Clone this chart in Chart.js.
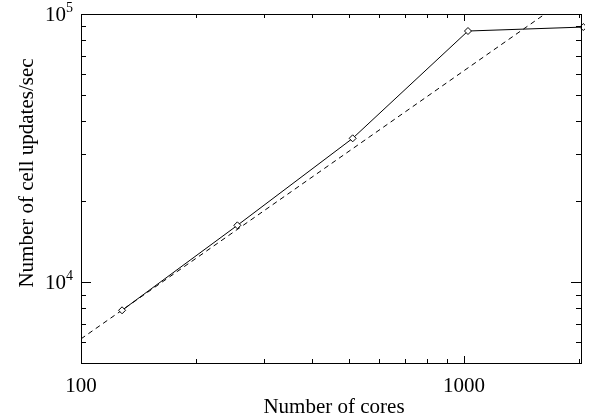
<!DOCTYPE html>
<html>
<head>
<meta charset="utf-8">
<script src="https://cdn.jsdelivr.net/npm/chart.js@4.4.0/dist/chart.umd.min.js"></script>
<style>
  html, body { margin: 0; padding: 0; background: #fff; }
  #wrap { width: 590px; height: 417px; }
</style>
</head>
<body>
<div id="wrap"><canvas id="scaling"></canvas></div>
<script>
// Strong scaling: cell updates per second against core count
const cores = [128, 256, 512, 1024, 2048];
const cellUpdates = [7860, 16300, 34400, 86400, 89400];

// Ideal (linear) scaling reference, drawn as a dashed line
const idealCores = [100, 2048];
const idealUpdates = [6150, 125900];

// Axis ticks
const xMajor = [100, 1000];
const xMinor = [200, 300, 400, 500, 600, 700, 800, 900, 2000];
const yMajor = [1e4, 1e5];
const yMinor = [6000, 7000, 8000, 9000, 20000, 30000, 40000, 50000, 60000, 70000, 80000, 90000];

const FONT = '"Liberation Serif", "Times New Roman", serif';

// Draws the frame, inward ticks on all four sides, tick labels and titles
const axesPlugin = {
  id: 'idlAxes',
  afterDraw(chart) {
    const ctx = chart.ctx;
    const a = chart.chartArea;
    const xs = chart.scales.x, ys = chart.scales.y;
    ctx.save();
    ctx.strokeStyle = '#000';
    ctx.lineWidth = 1;
    ctx.strokeRect(a.left + 0.5, a.top + 0.5, a.right - a.left, a.bottom - a.top);

    ctx.beginPath();
    const xt = (v, len) => {
      const px = Math.round(xs.getPixelForValue(v)) + 0.5;
      ctx.moveTo(px, a.bottom); ctx.lineTo(px, a.bottom - len);
      ctx.moveTo(px, a.top); ctx.lineTo(px, a.top + len);
    };
    const yt = (v, len) => {
      const py = Math.round(ys.getPixelForValue(v)) + 0.5;
      ctx.moveTo(a.left, py); ctx.lineTo(a.left + len, py);
      ctx.moveTo(a.right, py); ctx.lineTo(a.right - len, py);
    };
    xMajor.forEach(v => xt(v, 7));
    xMinor.forEach(v => xt(v, 4));
    yMajor.forEach(v => yt(v, 10));
    yMinor.forEach(v => yt(v, 5));
    ctx.stroke();

    ctx.fillStyle = '#000';
    ctx.font = '21px ' + FONT;
    ctx.textAlign = 'center';
    ctx.textBaseline = 'alphabetic';
    xMajor.forEach(v => {
      ctx.fillText(String(v), xs.getPixelForValue(v), 392);
    });

    // 10^n labels with raised exponent
    yMajor.forEach(v => {
      const py = ys.getPixelForValue(v);
      const exp = String(Math.round(Math.log10(v)));
      ctx.font = '14px ' + FONT;
      const ew = ctx.measureText(exp).width;
      ctx.textAlign = 'right';
      ctx.textBaseline = 'alphabetic';
      const right = a.left - 8;
      ctx.fillText(exp, right, py - 2);
      ctx.font = '21px ' + FONT;
      ctx.fillText('10', right - ew, py + 7);
    });

    ctx.font = '21px ' + FONT;
    ctx.textAlign = 'center';
    ctx.textBaseline = 'alphabetic';
    ctx.fillText('Number of cores', 334, 413);

    ctx.translate(33, 173);
    ctx.rotate(-Math.PI / 2);
    ctx.fillText('Number of cell updates/sec', 0, 0);
    ctx.restore();
  }
};

new Chart(document.getElementById('scaling').getContext('2d'), {
  type: 'line',
  data: {
    datasets: [
      {
        label: 'Measured',
        data: cores.map((c, i) => ({ x: c, y: cellUpdates[i] })),
        borderColor: '#000',
        borderWidth: 1,
        pointStyle: 'rectRot',
        pointRadius: 3.5,
        pointBorderWidth: 1,
        pointBackgroundColor: '#fff',
        pointBorderColor: '#000',
        clip: 4,
        tension: 0
      },
      {
        label: 'Ideal',
        data: idealCores.map((c, i) => ({ x: c, y: idealUpdates[i] })),
        borderColor: '#000',
        borderWidth: 1,
        borderDash: [5, 4],
        pointRadius: 0,
        tension: 0
      }
    ]
  },
  options: {
    responsive: true,
    maintainAspectRatio: false,
    animation: false,
    layout: { padding: { left: 81, right: 9, top: 14, bottom: 54 } },
    plugins: { legend: { display: false }, tooltip: { enabled: false } },
    scales: {
      x: { type: 'logarithmic', min: 100, max: 2020, display: false },
      y: { type: 'logarithmic', min: 5000, max: 100000, display: false }
    }
  },
  plugins: [axesPlugin]
});
</script>
</body>
</html>
